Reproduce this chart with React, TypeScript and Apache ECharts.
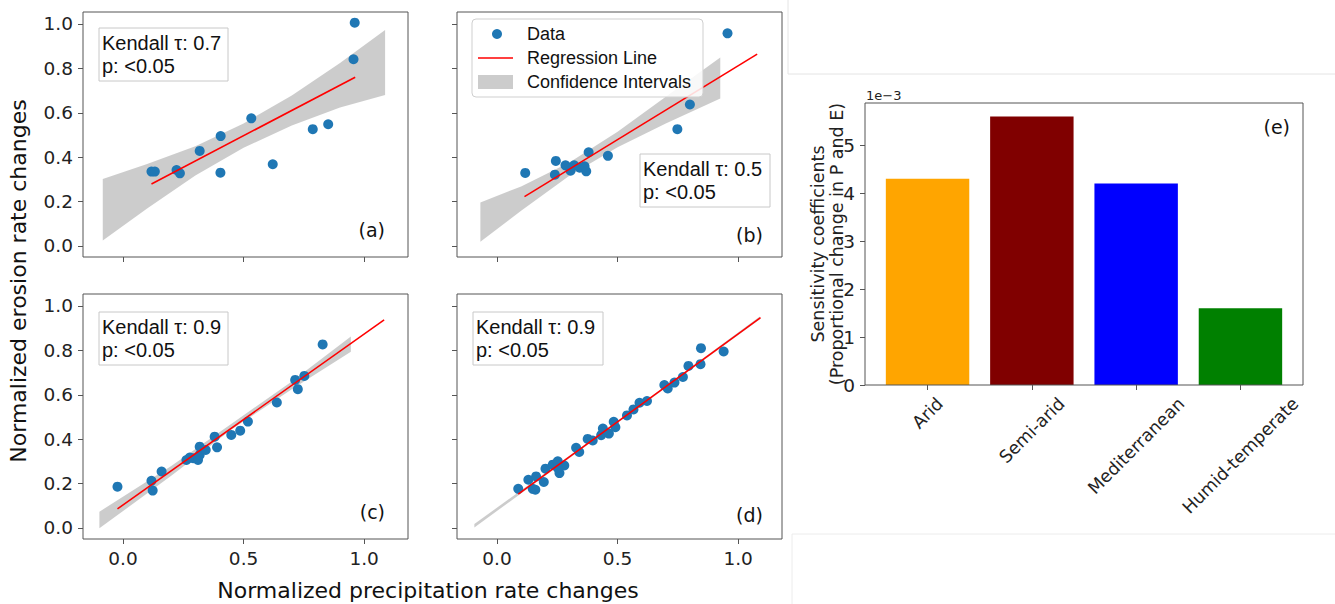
import React, { useEffect, useRef } from "react";
import * as echarts from "echarts";

// ---------- data ----------
const ptsA = [[0.118,0.335],[0.132,0.335],[0.222,0.342],[0.236,0.327],[0.318,0.428],[0.404,0.330],[0.405,0.495],[0.532,0.575],[0.621,0.368],[0.787,0.526],[0.851,0.548],[0.956,0.841],[0.961,1.006]];
const ptsB = [[0.117,0.329],[0.240,0.321],[0.244,0.383],[0.284,0.363],[0.305,0.339],[0.320,0.363],[0.343,0.352],[0.363,0.359],[0.370,0.336],[0.380,0.422],[0.460,0.406],[0.748,0.526],[0.800,0.637],[0.956,0.958]];
const ptsC = [[-0.023,0.186],[0.118,0.212],[0.123,0.168],[0.160,0.254],[0.263,0.306],[0.277,0.317],[0.291,0.314],[0.311,0.306],[0.318,0.366],[0.318,0.329],[0.343,0.351],[0.380,0.411],[0.390,0.363],[0.449,0.419],[0.486,0.438],[0.518,0.479],[0.638,0.565],[0.714,0.667],[0.725,0.625],[0.752,0.685],[0.828,0.827]];
const ptsD = [[0.088,0.176],[0.130,0.217],[0.148,0.176],[0.162,0.232],[0.159,0.172],[0.194,0.207],[0.201,0.267],[0.231,0.285],[0.252,0.300],[0.259,0.247],[0.279,0.281],[0.252,0.270],[0.328,0.361],[0.341,0.342],[0.376,0.401],[0.397,0.394],[0.439,0.448],[0.432,0.418],[0.464,0.425],[0.484,0.478],[0.491,0.454],[0.539,0.507],[0.566,0.534],[0.591,0.564],[0.622,0.572],[0.694,0.644],[0.708,0.628],[0.736,0.655],[0.771,0.680],[0.794,0.730],[0.844,0.738],[0.846,0.810],[0.940,0.795]];

// regression line end points
const regA = [[0.118,0.279],[0.963,0.760]];
const regB = [[0.114,0.222],[1.079,0.864]];
const regC = [[-0.023,0.086],[1.083,0.937]];
const regD = [[0.088,0.152],[1.093,0.948]];

// confidence band rows: [x, lower, upper]
const bandA = [[-0.084,0.024,0.302],[0.1,0.169,0.369],[0.3,0.317,0.449],[0.5,0.442,0.552],[0.7,0.542,0.678],[0.9,0.624,0.824],[1.087,0.680,0.973]];
const bandB = [[-0.069,0.019,0.196],[0.1,0.158,0.268],[0.3,0.316,0.376],[0.5,0.444,0.514],[0.7,0.552,0.672],[0.926,0.664,0.849]];
const bandC = [[-0.098,-0.002,0.073],[0.2,0.235,0.279],[0.45,0.443,0.469],[0.7,0.625,0.660],[0.945,0.794,0.862]];
const bandD = [[-0.094,0.002,0.018],[0.5,0.473,0.481],[1.09,0.940,0.953]];

const kendall = ["0.7", "0.5", "0.9", "0.9"];
const pText = "<0.05";
const panelTags = ["(a)", "(b)", "(c)", "(d)"];

const xTicks = [0, 0.5, 1.0];
const yTicks = [0, 0.2, 0.4, 0.6, 0.8, 1.0];

const climates = ["Arid", "Semi-arid", "Mediterranean", "Humid-temperate"];
const sensitivity = [4.3, 5.6, 4.2, 1.6];
const barColors = ["#FFA500", "#800000", "#0000FF", "#008000"];
const eTicks = [0, 1, 2, 3, 4, 5];

const FONT = "DejaVu Sans";
const FONT2 = "Liberation Sans";
const AX = "#555";
const CAT_FS = 17.5;

function measure(text: string, font: string): number {
  const c = document.createElement("canvas").getContext("2d");
  if (!c) return text.length * 10;
  c.font = font;
  return c.measureText(text).width;
}

export default function App() {
  const ref = useRef<HTMLDivElement>(null);
  useEffect(() => {
    if (!ref.current) return;
    const chart = echarts.init(ref.current, null, { renderer: "svg" });

    const gridsPos = [
      { left: 83, top: 12 },
      { left: 457, top: 12 },
      { left: 83, top: 294 },
      { left: 457, top: 294 },
    ];
    const grids: any[] = gridsPos.map((g) => ({
      left: g.left, top: g.top, width: 325, height: 245,
      show: true, borderColor: AX, borderWidth: 1, backgroundColor: "transparent",
    }));
    grids.push({ left: 875.4, top: 103, width: 417.2, height: 282, show: false });

    const labelStyle = { fontSize: 18.5, fontFamily: FONT, color: "#222", margin: 10 };
    const xAxes: any[] = [0, 1, 2, 3].map((i) => ({
      type: "value", gridIndex: i, min: -0.166, max: 1.182, position: "bottom",
      axisLine: { show: false, onZero: false }, splitLine: { show: false },
      axisTick: { show: true, length: 5, lineStyle: { color: AX }, customValues: xTicks },
      axisLabel: { show: i >= 2, customValues: xTicks, formatter: (v: number) => v.toFixed(1), ...labelStyle },
    }));
    const yAxes: any[] = [0, 1, 2, 3].map((i) => ({
      type: "value", gridIndex: i, min: -0.05, max: 1.054, position: "left",
      axisLine: { show: false, onZero: false }, splitLine: { show: false },
      axisTick: { show: true, length: 5, lineStyle: { color: AX }, customValues: yTicks },
      axisLabel: { show: i % 2 === 0, customValues: yTicks, formatter: (v: number) => v.toFixed(1), ...labelStyle },
    }));

    // rotated category labels centred under their ticks (matplotlib ha="center")
    const rich: any = {};
    climates.forEach((c, i) => {
      const w = measure(c, `${CAT_FS}px '${FONT}'`);
      const t = w / 2;
      rich["c" + i] = { fontSize: CAT_FS, fontFamily: FONT, color: "#222", padding: [t, t, 0, 0] };
    });
    xAxes.push({
      type: "category", gridIndex: 4, data: climates, position: "bottom",
      axisLine: { show: false, onZero: false }, splitLine: { show: false },
      axisTick: { show: true, alignWithLabel: true, length: 5, lineStyle: { color: AX } },
      axisLabel: {
        rotate: 45, align: "center", verticalAlign: "middle", margin: 15.6, interval: 0,
        fontSize: CAT_FS, fontFamily: FONT, color: "#222",
        formatter: (v: string, idx: number) => `{c${idx}|${v}}`, rich,
      },
    });
    yAxes.push({
      type: "value", gridIndex: 4, min: 0, max: 5.88, offset: 10.4, position: "left",
      axisLine: { show: false, onZero: false }, splitLine: { show: false },
      axisTick: { show: true, length: 5, lineStyle: { color: AX }, customValues: eTicks },
      axisLabel: { customValues: eTicks, ...labelStyle },
    });

    const pts = [ptsA, ptsB, ptsC, ptsD];
    const regs = [regA, regB, regC, regD];
    const bands = [bandA, bandB, bandC, bandD];
    const series: any[] = [];
    for (let i = 0; i < 4; i++) {
      series.push({
        type: "scatter", xAxisIndex: i, yAxisIndex: i, data: pts[i],
        symbolSize: 10, itemStyle: { color: "#1f77b4", opacity: 1 }, silent: true,
      });
      const band = bands[i];
      series.push({
        type: "custom", xAxisIndex: i, yAxisIndex: i, data: band, silent: true,
        encode: { x: 0, y: [1, 2] },
        renderItem: (params: any, api: any) => {
          if (params.dataIndex !== 0) return null;
          const points: number[][] = [];
          for (let k = 0; k < band.length; k++) points.push(api.coord([band[k][0], band[k][2]]));
          for (let k = band.length - 1; k >= 0; k--) points.push(api.coord([band[k][0], band[k][1]]));
          return { type: "polygon", shape: { points }, style: { fill: "rgba(128,128,128,0.4)", stroke: "none" } };
        },
      });
      series.push({
        type: "line", xAxisIndex: i, yAxisIndex: i, data: regs[i], symbol: "none", silent: true,
        lineStyle: { color: "#ff0000", width: 1.6 },
      });
    }
    series.push({
      type: "bar", xAxisIndex: 4, yAxisIndex: 4, barCategoryGap: "20%", silent: true,
      data: sensitivity.map((v, i) => ({ value: v, itemStyle: { color: barColors[i] } })),
    });

    // Kendall boxes
    const boxes = [
      { x: 99, y: 28, w: 129 },
      { x: 640, y: 154, w: 130 },
      { x: 99, y: 312, w: 129 },
      { x: 473, y: 312, w: 130 },
    ];
    const tags = [
      { x: 385, y: 230 },
      { x: 763, y: 235 },
      { x: 385, y: 512 },
      { x: 763, y: 515 },
    ];
    const graphic: any[] = [];
    boxes.forEach((b, i) => {
      graphic.push({
        type: "rect", shape: { x: b.x, y: b.y, width: b.w, height: 53 },
        style: { fill: "#fff", stroke: "#c8c8c8", lineWidth: 1 }, z: 100,
      });
      graphic.push({
        type: "text", x: b.x + 3, y: b.y + 15, z: 101,
        style: { text: "Kendall τ: " + kendall[i], font: `20px '${FONT2}'`, fill: "#111", textVerticalAlign: "middle" },
      });
      graphic.push({
        type: "text", x: b.x + 3, y: b.y + 38, z: 101,
        style: { text: "p: " + pText, font: `20px '${FONT2}'`, fill: "#111", textVerticalAlign: "middle" },
      });
    });
    tags.forEach((t, i) => {
      graphic.push({
        type: "text", x: t.x, y: t.y, z: 101,
        style: { text: panelTags[i], font: `19px '${FONT}'`, fill: "#111", textAlign: "right", textVerticalAlign: "middle" },
      });
    });
    // legend
    graphic.push(
      { type: "rect", shape: { x: 472, y: 19, width: 231, height: 78, r: 4 }, style: { fill: "rgba(255,255,255,0.85)", stroke: "#cfcfcf", lineWidth: 1 }, z: 100 },
      { type: "circle", shape: { cx: 497, cy: 34, r: 5 }, style: { fill: "#1f77b4" }, z: 101 },
      { type: "line", shape: { x1: 478, y1: 58, x2: 513, y2: 58 }, style: { stroke: "#ff0000", lineWidth: 1.6 }, z: 101 },
      { type: "rect", shape: { x: 478, y: 75, width: 35, height: 14 }, style: { fill: "rgba(128,128,128,0.4)" }, z: 101 },
      { type: "text", x: 527, y: 34, z: 101, style: { text: "Data", font: `18px '${FONT2}'`, fill: "#111", textVerticalAlign: "middle" } },
      { type: "text", x: 527, y: 58, z: 101, style: { text: "Regression Line", font: `18px '${FONT2}'`, fill: "#111", textVerticalAlign: "middle" } },
      { type: "text", x: 527, y: 82, z: 101, style: { text: "Confidence Intervals", font: `18px '${FONT2}'`, fill: "#111", textVerticalAlign: "middle" } },
    );
    // axis titles
    graphic.push(
      { type: "text", x: 18, y: 281, rotation: Math.PI / 2, z: 101,
        style: { text: "Normalized erosion rate changes", font: `22px '${FONT}'`, fill: "#111", textAlign: "center", textVerticalAlign: "middle" } },
      { type: "text", x: 428, y: 590, z: 101,
        style: { text: "Normalized precipitation rate changes", font: `22px '${FONT}'`, fill: "#111", textAlign: "center", textVerticalAlign: "middle" } },
    );
    // panel e decorations
    graphic.push(
      { type: "rect", shape: { x: 865, y: 103, width: 438, height: 282 }, style: { fill: "none", stroke: AX, lineWidth: 1 }, z: 50 },
      { type: "text", x: 866, y: 95, z: 101, style: { text: "1e\u22123", font: `13px '${FONT}'`, fill: "#222", textVerticalAlign: "middle" } },
      { type: "text", x: 1290, y: 127, z: 101, style: { text: "(e)", font: `19px '${FONT}'`, fill: "#111", textAlign: "right", textVerticalAlign: "middle" } },
      { type: "text", x: 827, y: 244, rotation: Math.PI / 2, z: 101,
        style: { text: "Sensitivity coefficients\n(Proportional change in P and E)", font: `17.5px '${FONT}'`, lineHeight: 19, fill: "#222", textAlign: "center", textVerticalAlign: "middle" } },
    );
    // faint composition borders
    graphic.push(
      { type: "polyline", shape: { points: [[788, 0], [788, 74], [1335, 74]] }, style: { stroke: "#e4e4e4", lineWidth: 1, fill: "none" }, z: 1 },
      { type: "polyline", shape: { points: [[792, 604], [792, 534], [1335, 534]] }, style: { stroke: "#ececec", lineWidth: 1, fill: "none" }, z: 1 },
    );

    chart.setOption({
      animation: false,
      backgroundColor: "#fff",
      grid: grids,
      xAxis: xAxes,
      yAxis: yAxes,
      series,
      graphic,
    });
    return () => chart.dispose();
  }, []);
  return <div ref={ref} style={{ position: "fixed", left: 0, top: 0, width: 1335, height: 604 }} />;
}
